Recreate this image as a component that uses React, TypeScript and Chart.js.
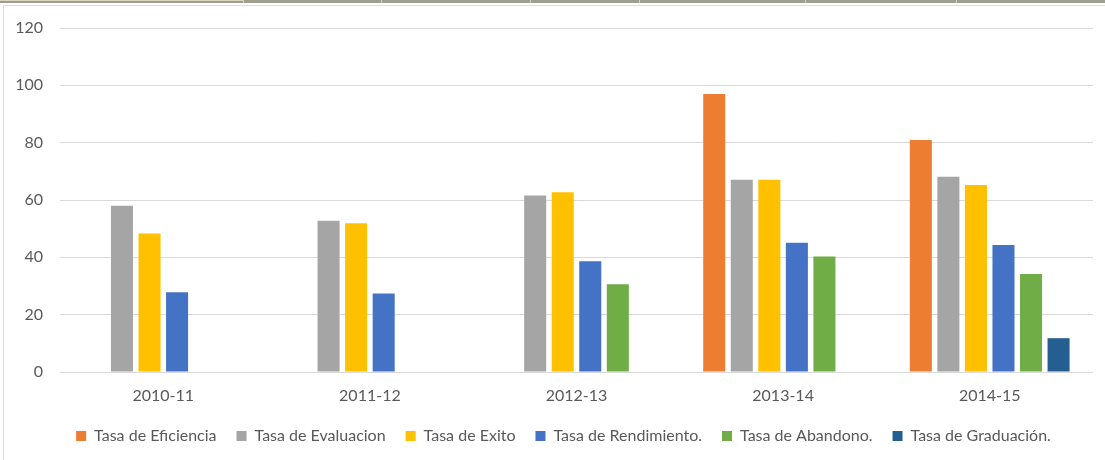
import React, { useEffect, useRef } from "react";
import { Chart, registerables } from "chart.js";

Chart.register(...registerables);

const categories = ["2010-11", "2011-12", "2012-13", "2013-14", "2014-15"];
const seriesNames = [
  "Tasa de Eficiencia",
  "Tasa de Evaluacion",
  "Tasa de Exito",
  "Tasa de Rendimiento.",
  "Tasa de Abandono.",
  "Tasa de Graduación.",
];
const eficiencia = [null, null, null, 97, 80.9];
const evaluacion = [58, 52.8, 61.6, 67.1, 68.1];
const exito = [48.3, 51.9, 62.7, 67.1, 65.2];
const rendimiento = [27.8, 27.4, 38.6, 45.1, 44.3];
const abandono = [null, null, 30.6, 40.3, 34.2];
const graduacion = [null, null, null, null, 11.8];
const seriesColors = ["#ED7D31", "#A5A5A5", "#FFC000", "#4472C4", "#70AD47", "#255E91"];
const yTicks = [0, 20, 40, 60, 80, 100, 120];

const FONT = "Lato, 'Open Sans', sans-serif";

const shiftLegend = {
  id: "shiftLegend",
  afterLayout(chart: any) {
    const lg = chart.legend;
    if (lg) {
      lg.left += 15;
      lg.right += 15;
    }
  },
};

export default function App() {
  const canvasRef = useRef<HTMLCanvasElement | null>(null);

  useEffect(() => {
    document.body.style.margin = "0";
    const ctx = canvasRef.current!;
    const values = [eficiencia, evaluacion, exito, rendimiento, abandono, graduacion];
    const chart = new Chart(ctx, {
      type: "bar",
      data: {
        labels: categories,
        datasets: seriesNames.map((name, i) => ({
          label: name,
          data: values[i],
          backgroundColor: seriesColors[i],
          borderWidth: 0,
          categoryPercentage: 0.8,
          barPercentage: 0.8,
        })),
      },
      plugins: [shiftLegend],
      options: {
        animation: false,
        responsive: false,
        maintainAspectRatio: false,
        layout: { padding: { top: 22, right: 12, bottom: 6, left: 0 } },
        plugins: {
          tooltip: { enabled: false },
          legend: {
            position: "bottom",
            labels: {
              boxWidth: 10,
              boxHeight: 10,
              padding: 20,
              color: "#595959",
              font: { family: FONT, size: 16 },
            },
          },
        },
        scales: {
          x: {
            grid: { display: false, drawTicks: false },
            border: { display: false },
            ticks: {
              color: "#595959",
              font: { family: FONT, size: 16 },
              padding: 14,
            },
            afterFit: (scale: any) => {
              scale.height = 36;
            },
          },
          y: {
            min: 0,
            max: 120,
            afterBuildTicks: (scale: any) => {
              scale.ticks = yTicks.map((v) => ({ value: v }));
            },
            grid: { color: "#d9d9d9", lineWidth: 1, drawTicks: false },
            border: { display: false },
            ticks: {
              color: "#595959",
              font: { family: FONT, size: 16 },
              padding: 17,
            },
            afterFit: (scale: any) => {
              scale.width = 56;
              scale.paddingTop = 9;
              scale.paddingBottom = 9;
            },
          },
        },
      },
    });
    return () => chart.destroy();
  }, []);

  const seps = [243, 381, 530, 639, 805, 956];

  return (
    <div style={{ position: "fixed", left: 0, top: 0, width: 1105, height: 460, background: "#fff", overflow: "hidden" }}>
      <div style={{ position: "absolute", left: 0, top: 0, width: 1105, height: 3, background: "#9f9f90" }} />
      <div style={{ position: "absolute", left: 0, top: 0, width: 243, height: 1, background: "#d8d6bf" }} />
      {seps.map((x) => (
        <div key={x} style={{ position: "absolute", left: x, top: 0, width: 1, height: 3, background: "#d0d0c8" }} />
      ))}
      <div
        style={{
          position: "absolute",
          left: 3,
          top: 5,
          width: 1110,
          height: 470,
          border: "1px solid #dcdcdc",
          boxSizing: "border-box",
        }}
      />
      <canvas
        ref={canvasRef}
        width={1101}
        height={454}
        style={{ position: "absolute", left: 4, top: 6, width: 1101, height: 454 }}
      />
    </div>
  );
}
